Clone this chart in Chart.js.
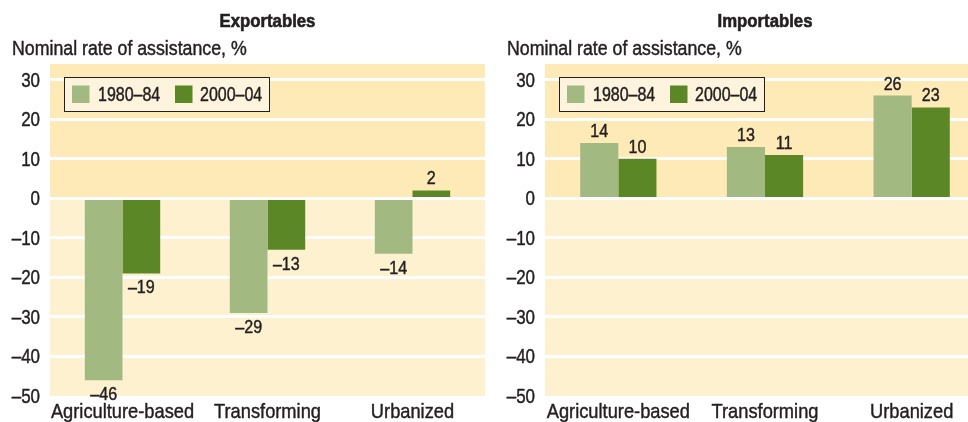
<!DOCTYPE html>
<html>
<head>
<meta charset="utf-8">
<script src="https://cdn.jsdelivr.net/npm/chart.js@4.4.0/dist/chart.umd.min.js"></script>
<style>
  html, body { margin: 0; padding: 0; background: #ffffff; overflow: hidden; }
  #wrap { position: relative; width: 968px; height: 422px; overflow: hidden; }
  #c1 { position: absolute; left: 0; top: 0; }
  #c2 { position: absolute; left: 485px; top: 0; }
</style>
</head>
<body>
<div id="wrap">
  <canvas id="c1" width="485" height="422"></canvas>
  <canvas id="c2" width="500" height="422"></canvas>
</div>
<script>
const categories = ['Agriculture-based', 'Transforming', 'Urbanized'];
const seriesNames = ['1980\u201384', '2000\u201304'];
const exportables1980 = [-46, -29, -14];
const exportables2000 = [-19, -13, 2];
const importables1980 = [14, 13, 26];
const importables2000 = [10, 11, 23];
const yTickValues = [-50, -40, -30, -20, -10, 0, 10, 20, 30];
const panelTitles = ['Exportables', 'Importables'];
const axisTitle = 'Nominal rate of assistance, %';

const FONT = "'Liberation Sans', Arial, sans-serif";
const LIGHT = '#a2b981';
const DARK = '#5c8727';
const BG_POS = '#fdeab6';
const BG_NEG = '#fef1d0';
const TXT = '#231f20';

function fmt(v) { return v < 0 ? '\u2013' + Math.abs(v) : String(v); }

// draw horizontally condensed text (emulates a condensed face)
function txt(ctx, s, x, y, size, sx, align, bold, weight) {
  ctx.save();
  ctx.translate(x, y);
  ctx.scale(sx, 1);
  ctx.font = (bold ? 'bold ' : '') + size + 'px ' + FONT;
  ctx.textAlign = align;
  ctx.textBaseline = 'alphabetic';
  ctx.fillStyle = TXT;
  ctx.fillText(s, 0, 0);
  ctx.strokeStyle = TXT;
  ctx.lineWidth = weight === undefined ? 0.45 : weight;
  ctx.lineJoin = 'round';
  ctx.strokeText(s, 0, 0);
  ctx.restore();
}

const panelPlugin = {
  id: 'panel',
  beforeDraw(chart) {
    const { ctx, chartArea: a, scales } = chart;
    const z = scales.y.getPixelForValue(0);
    ctx.save();
    ctx.fillStyle = BG_POS;
    ctx.fillRect(a.left, a.top, a.right - a.left, z - a.top);
    ctx.fillStyle = BG_NEG;
    ctx.fillRect(a.left, z, a.right - a.left, a.bottom - z);
    ctx.restore();
  },
  afterDatasetsDraw(chart) {
    const { ctx } = chart;
    chart.data.datasets.forEach((ds, di) => {
      chart.getDatasetMeta(di).data.forEach((bar, i) => {
        const v = ds.data[i];
        const y = v >= 0 ? bar.y - 6 : bar.y + 20;
        txt(ctx, fmt(v), bar.x, y, 18.5, 0.87, 'center', false);
      });
    });
  },
  afterDraw(chart, args, opts) {
    const { ctx, chartArea: a, scales } = chart;
    // y tick labels
    scales.y.ticks.forEach(t => {
      const py = scales.y.getPixelForValue(t.value);
      txt(ctx, fmt(t.value), a.left - 10, py + 7, 19.5, 0.87, 'right', false);
    });
    // x category labels
    categories.forEach((c, i) => {
      const px = scales.x.getPixelForValue(i);
      txt(ctx, c, px, 418, 21, 0.87, 'center', false);
    });
    // panel title
    txt(ctx, opts.title, (a.left + a.right) / 2, 27, 18, 0.93, 'center', true, 0.6);
    // axis title
    txt(ctx, axisTitle, opts.axisX, 55, 19.5, 0.91, 'left', false);
    // legend
    const lx = a.left + 14.5, ly = 77.5, lw = 205, lh = 34;
    ctx.save();
    ctx.fillStyle = '#fef3dc';
    ctx.fillRect(lx, ly, lw, lh);
    ctx.strokeStyle = '#231f20';
    ctx.lineWidth = 1;
    ctx.strokeRect(lx, ly, lw, lh);
    ctx.restore();
    const items = [[LIGHT, seriesNames[0], 7.5, 33.5], [DARK, seriesNames[1], 110.5, 135.5]];
    items.forEach(([c, t, sx, tx]) => {
      ctx.save();
      ctx.fillStyle = c;
      ctx.fillRect(lx + sx, 85.5, 17.5, 17.5);
      ctx.restore();
      txt(ctx, t, lx + tx, 101, 19.5, 0.82, 'left', false);
    });
  }
};

function makeChart(id, d1, d2, title, yWidth, axisX) {
  return new Chart(document.getElementById(id), {
    type: 'bar',
    data: {
      labels: categories,
      datasets: [
        { label: seriesNames[0], data: d1, backgroundColor: LIGHT, borderWidth: 0 },
        { label: seriesNames[1], data: d2, backgroundColor: DARK, borderWidth: 0 }
      ]
    },
    options: {
      responsive: false,
      animation: false,
      devicePixelRatio: 1,
      layout: { padding: { top: 64, right: 0, left: 0, bottom: 0 } },
      datasets: { bar: { barPercentage: 1, categoryPercentage: 0.52 } },
      plugins: {
        legend: { display: false },
        tooltip: { enabled: false },
        panel: { title: title, axisX: axisX }
      },
      scales: {
        x: {
          grid: { display: false, drawTicks: false },
          border: { display: false },
          ticks: { display: false },
          afterFit(s) { s.height = 26; }
        },
        y: {
          min: -50,
          max: 34,
          afterBuildTicks(s) { s.ticks = yTickValues.map(v => ({ value: v })); },
          grid: {
            color: ctx => (ctx.tick && ctx.tick.value === -50) ? 'rgba(0,0,0,0)' : '#ffffff',
            lineWidth: 3,
            drawTicks: false
          },
          border: { display: false },
          ticks: { display: false },
          afterFit(s) { s.width = yWidth; }
        }
      }
    },
    plugins: [panelPlugin]
  });
}

makeChart('c1', exportables1980, exportables2000, panelTitles[0], 50, 12);
makeChart('c2', importables1980, importables2000, panelTitles[1], 60, 22);
</script>
</body>
</html>
